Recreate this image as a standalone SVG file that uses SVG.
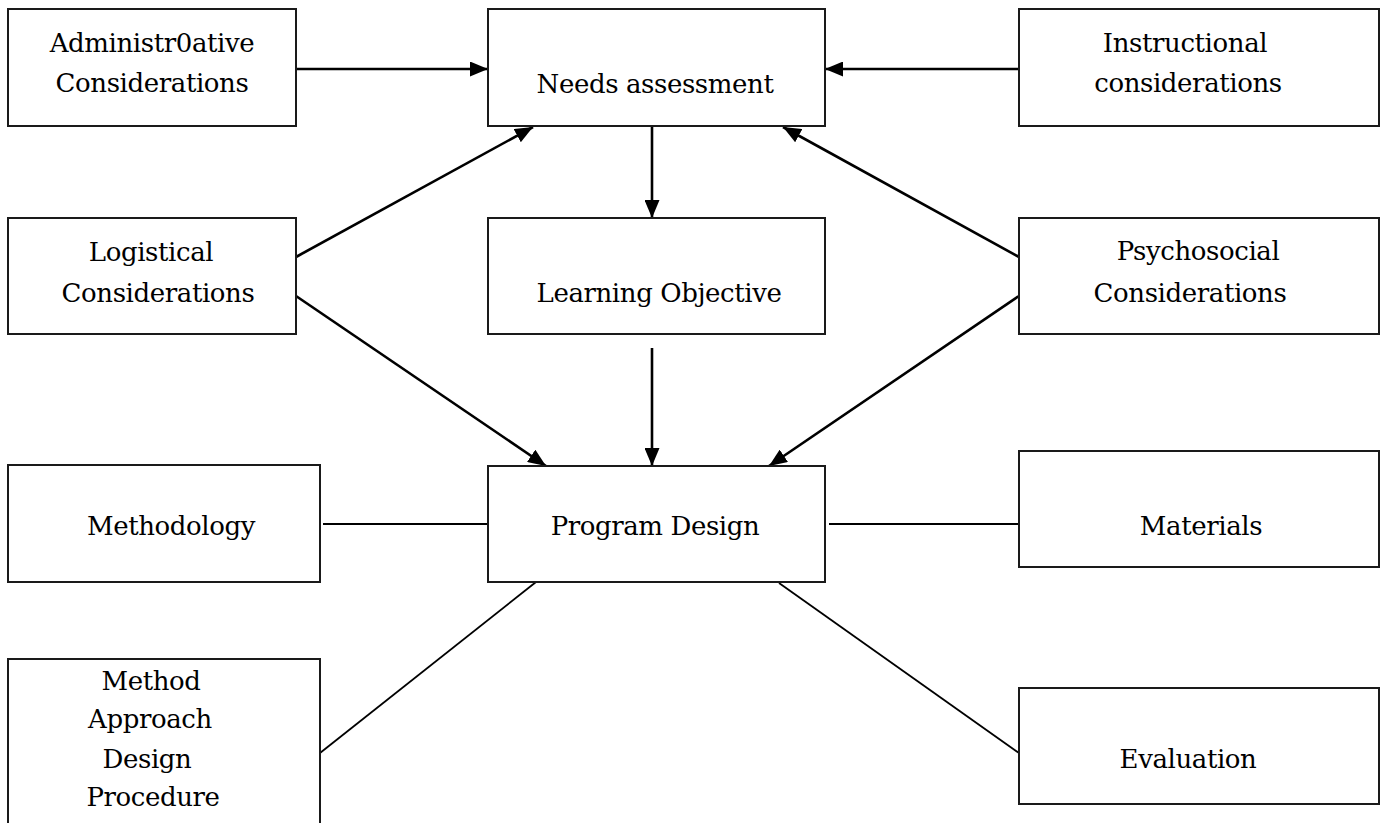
<svg xmlns="http://www.w3.org/2000/svg" width="1381" height="823" viewBox="0 0 1381 823">
<style>
.box{fill:#fff;stroke:#1a1a1a;stroke-width:2}
.lbl{font-family:"DejaVu Serif","Liberation Serif",serif;font-size:26px;letter-spacing:-0.4px;fill:#000;text-anchor:middle}
.arr{stroke:#000;stroke-width:2.6;fill:none;marker-end:url(#ah)}
.ln{stroke:#000;stroke-width:1.8;fill:none}
</style>
<defs>
<marker id="ah" markerUnits="userSpaceOnUse" markerWidth="19" markerHeight="15" refX="18" refY="7.5" orient="auto">
<path d="M0,0 L18,7.5 L0,15 z" fill="#000"/>
</marker>
</defs>
<rect width="1381" height="823" fill="#fff"/>
<g id="connectors">
<line class="arr" x1="296" y1="69" x2="488" y2="69"/>
<line class="arr" x1="1019" y1="69" x2="825" y2="69"/>
<line class="arr" x1="296" y1="257" x2="533" y2="127"/>
<line class="arr" x1="1019" y1="257" x2="783" y2="127"/>
<line class="arr" x1="652" y1="126" x2="652" y2="218"/>
<line class="arr" x1="652" y1="348" x2="652" y2="466"/>
<line class="arr" x1="296" y1="296" x2="546" y2="466"/>
<line class="arr" x1="1019" y1="296" x2="769" y2="466"/>
<line class="ln" x1="323" y1="524" x2="488" y2="524"/>
<line class="ln" x1="829" y1="524" x2="1019" y2="524"/>
<line class="ln" x1="536" y1="582" x2="320" y2="753"/>
<line class="ln" x1="779" y1="583" x2="1019" y2="753"/>
</g>
<g id="administrative">
<rect class="box" x="8" y="9" width="288" height="117"/>
<text class="lbl" x="152" y="52">Administr0ative</text>
<text class="lbl" x="152" y="92">Considerations</text>
</g>
<g id="needs">
<rect class="box" x="488" y="9" width="337" height="117"/>
<text class="lbl" x="655" y="93">Needs assessment</text>
</g>
<g id="instructional">
<rect class="box" x="1019" y="9" width="360" height="117"/>
<text class="lbl" x="1185" y="52">Instructional</text>
<text class="lbl" x="1188" y="92">considerations</text>
</g>
<g id="logistical">
<rect class="box" x="8" y="218" width="288" height="116"/>
<text class="lbl" x="151" y="261">Logistical</text>
<text class="lbl" x="158" y="302">Considerations</text>
</g>
<g id="learning">
<rect class="box" x="488" y="218" width="337" height="116"/>
<text class="lbl" x="659" y="302">Learning Objective</text>
</g>
<g id="psychosocial">
<rect class="box" x="1019" y="218" width="360" height="116"/>
<text class="lbl" x="1198" y="260">Psychosocial</text>
<text class="lbl" x="1190" y="302">Considerations</text>
</g>
<g id="methodology">
<rect class="box" x="8" y="465" width="312" height="117"/>
<text class="lbl" x="171" y="535">Methodology</text>
</g>
<g id="program-design">
<rect class="box" x="488" y="466" width="337" height="116"/>
<text class="lbl" x="655" y="535">Program Design</text>
</g>
<g id="materials">
<rect class="box" x="1019" y="451" width="360" height="116"/>
<text class="lbl" x="1201" y="535">Materials</text>
</g>
<g id="method">
<rect class="box" x="8" y="659" width="312" height="180"/>
<text class="lbl" x="151" y="690">Method</text>
<text class="lbl" x="150" y="728">Approach</text>
<text class="lbl" x="147" y="768">Design</text>
<text class="lbl" x="153" y="806">Procedure</text>
</g>
<g id="evaluation">
<rect class="box" x="1019" y="688" width="360" height="116"/>
<text class="lbl" x="1188" y="768">Evaluation</text>
</g>
</svg>
